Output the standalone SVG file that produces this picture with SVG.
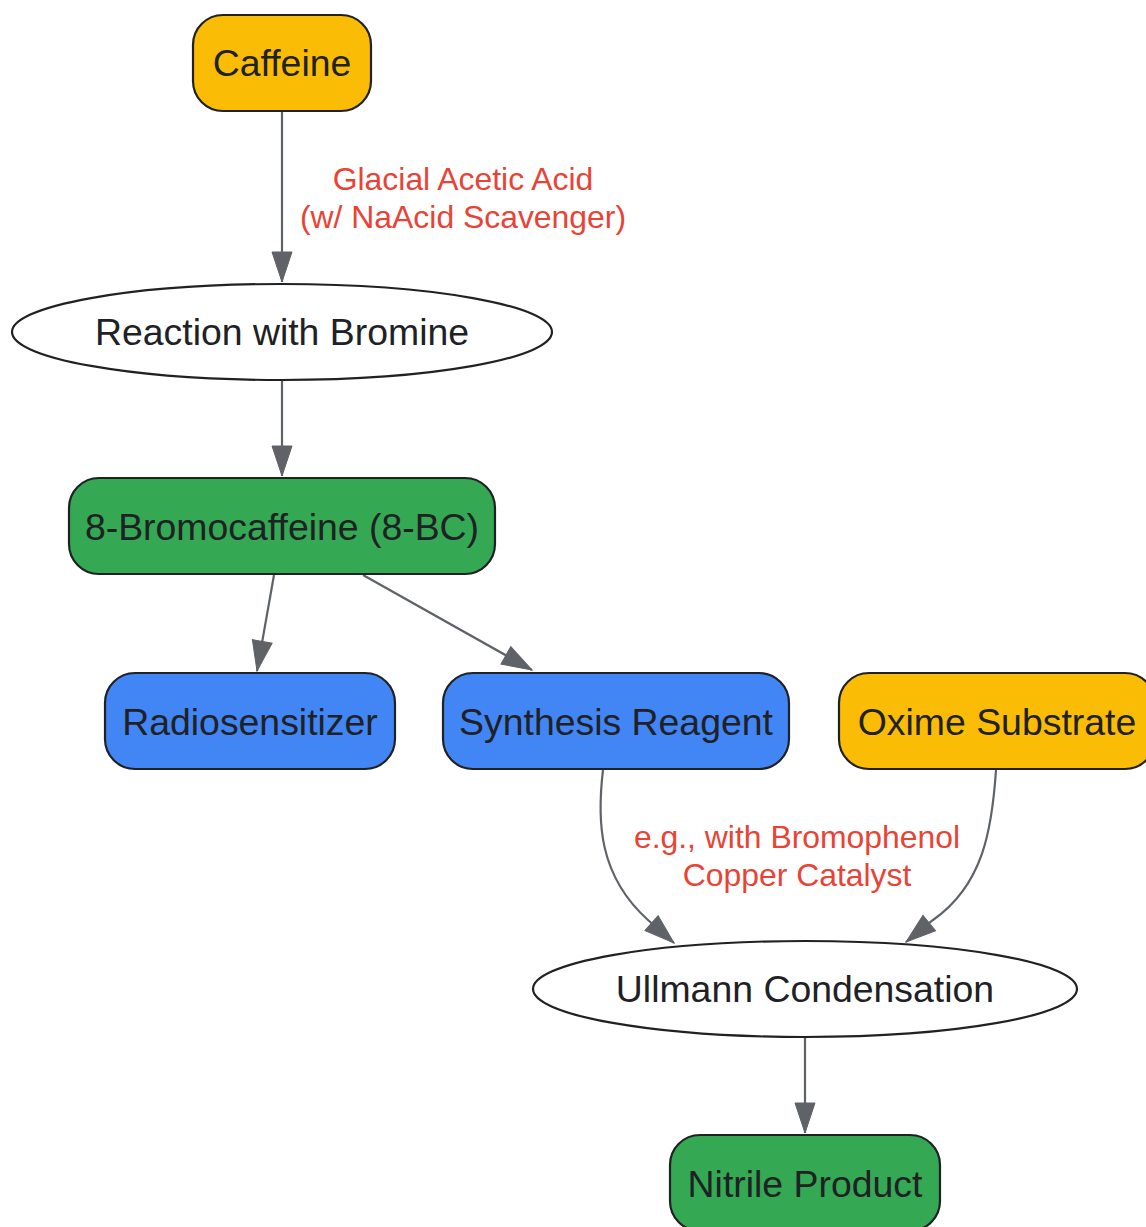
<svg xmlns="http://www.w3.org/2000/svg" width="1146" height="1227" viewBox="0 0 1146 1227">
<style>
.n{stroke:#202124;stroke-width:2.2}
.y{fill:#FBBC05}.g{fill:#34A853}.b{fill:#4285F4}.w{fill:#ffffff}
.t{font-family:"Liberation Sans",Arial,sans-serif;font-size:37.4px;fill:#202124;text-anchor:middle}
.l{font-family:"Liberation Sans",Arial,sans-serif;font-size:31.9px;fill:#EA4335;text-anchor:middle}
.e{fill:none;stroke:#5F6368;stroke-width:2.2;marker-end:url(#ah)}
</style>
<defs>
<marker id="ah" markerUnits="userSpaceOnUse" markerWidth="32" markerHeight="22" viewBox="0 0 32 22" refX="31" refY="11" orient="auto">
<path d="M1,1 L31,11 L1,21 z" fill="#5F6368" stroke="#5F6368" stroke-width="1"/>
</marker>
</defs>
<rect width="1146" height="1227" fill="#ffffff"/>
<g id="edges">
<path class="e" d="M282,111 L282,282"/>
<path class="e" d="M282,380 L282,476"/>
<path class="e" d="M274,575 L257,671"/>
<path class="e" d="M363,575 L532,670"/>
<path class="e" d="M603,770 C597,820 598,875 648,920 L674,943"/>
<path class="e" d="M996,770 C992,830 983,885 933,920 L906,942"/>
<path class="e" d="M805,1037 L805,1133"/>
<text class="l" x="463" y="190">Glacial Acetic Acid</text>
<text class="l" x="463" y="228">(w/ NaAcid Scavenger)</text>
<text class="l" x="797" y="848">e.g., with Bromophenol</text>
<text class="l" x="797" y="886">Copper Catalyst</text>
</g>
<g id="caffeine"><rect class="n y" x="193" y="15" width="178" height="96" rx="30"/><text class="t" x="282" y="76">Caffeine</text></g>
<g id="bromine"><ellipse class="n w" cx="282" cy="332" rx="270" ry="48"/><text class="t" x="282" y="345">Reaction with Bromine</text></g>
<g id="bc"><rect class="n g" x="69" y="478" width="426" height="96" rx="30"/><text class="t" x="282" y="540">8-Bromocaffeine (8-BC)</text></g>
<g id="radio"><rect class="n b" x="105" y="673" width="290" height="96" rx="30"/><text class="t" x="250" y="735">Radiosensitizer</text></g>
<g id="synth"><rect class="n b" x="443" y="673" width="346" height="96" rx="30"/><text class="t" x="616" y="735">Synthesis Reagent</text></g>
<g id="oxime"><rect class="n y" x="839" y="673" width="316" height="96" rx="30"/><text class="t" x="997" y="735">Oxime Substrate</text></g>
<g id="ullmann"><ellipse class="n w" cx="805" cy="989" rx="272" ry="48"/><text class="t" x="805" y="1002">Ullmann Condensation</text></g>
<g id="nitrile"><rect class="n g" x="670" y="1135" width="270" height="96" rx="30"/><text class="t" x="805" y="1197">Nitrile Product</text></g>
</svg>
